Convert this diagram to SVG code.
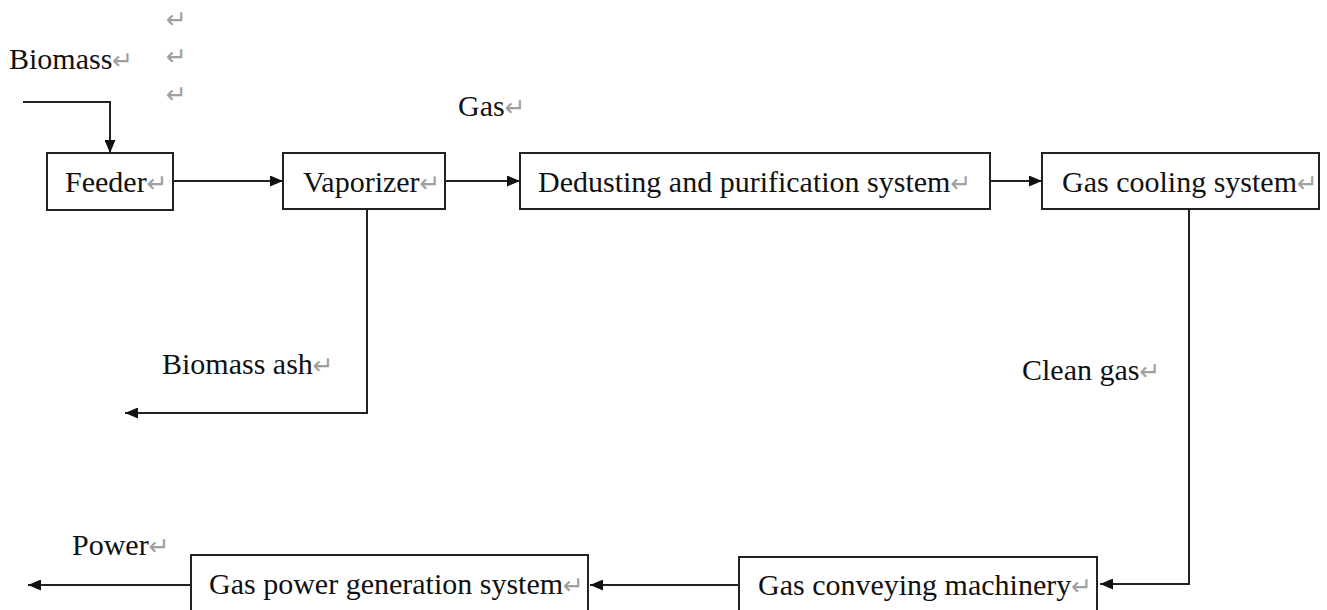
<svg xmlns="http://www.w3.org/2000/svg" width="1327" height="610" viewBox="0 0 1327 610">
<style>
.t{font-family:"Liberation Serif","Times New Roman",serif;font-size:30px;fill:#111}
.r{font-family:"DejaVu Sans",sans-serif;font-size:25px;fill:#a0a0a0}
.b{fill:#fff;stroke:#222;stroke-width:2}
.c{fill:none;stroke:#222;stroke-width:2}
</style>
<defs>
<marker id="a" viewBox="0 0 13 11" refX="13" refY="5.5" markerWidth="13" markerHeight="11" markerUnits="userSpaceOnUse" orient="auto">
<path d="M0,0 L13,5.5 L0,11 Z" fill="#111"/>
</marker>
</defs>
<g id="marks">
<text class="r" x="166" y="28">↵</text>
<text class="r" x="166" y="65">↵</text>
<text class="r" x="166" y="103">↵</text>
</g>
<g id="labels">
<text class="t" x="9" y="69">Biomass<tspan class="r">↵</tspan></text>
<text class="t" x="458" y="116">Gas<tspan class="r">↵</tspan></text>
<text class="t" x="162" y="374">Biomass ash<tspan class="r">↵</tspan></text>
<text class="t" x="1022" y="380">Clean gas<tspan class="r">↵</tspan></text>
<text class="t" x="72" y="555">Power<tspan class="r">↵</tspan></text>
</g>
<g id="connectors">
<path class="c" d="M23,102 H110 V153" marker-end="url(#a)"/>
<path class="c" d="M173,181 H283" marker-end="url(#a)"/>
<path class="c" d="M445,181 H520" marker-end="url(#a)"/>
<path class="c" d="M990,181 H1042" marker-end="url(#a)"/>
<path class="c" d="M367,209 V413 H125" marker-end="url(#a)"/>
<path class="c" d="M1189,209 V584 H1100" marker-end="url(#a)"/>
<path class="c" d="M739,585 H590" marker-end="url(#a)"/>
<path class="c" d="M191,585 H28" marker-end="url(#a)"/>
</g>
<g id="feeder">
<rect class="b" x="47" y="153" width="126" height="57"/>
<text class="t" x="65" y="192">Feeder<tspan class="r">↵</tspan></text>
</g>
<g id="vaporizer">
<rect class="b" x="283" y="153" width="162" height="56"/>
<text class="t" x="303" y="192">Vaporizer<tspan class="r">↵</tspan></text>
</g>
<g id="dedusting">
<rect class="b" x="520" y="153" width="470" height="56"/>
<text class="t" x="538" y="192">Dedusting and purification system<tspan class="r">↵</tspan></text>
</g>
<g id="cooling">
<rect class="b" x="1042" y="153" width="277" height="56"/>
<text class="t" x="1062" y="192">Gas cooling system<tspan class="r">↵</tspan></text>
</g>
<g id="conveying">
<rect class="b" x="739" y="557" width="358" height="70"/>
<text class="t" x="758" y="595">Gas conveying machinery<tspan class="r">↵</tspan></text>
</g>
<g id="power">
<rect class="b" x="191" y="555" width="397" height="70"/>
<text class="t" x="209" y="594">Gas power generation system<tspan class="r">↵</tspan></text>
</g>
</svg>
